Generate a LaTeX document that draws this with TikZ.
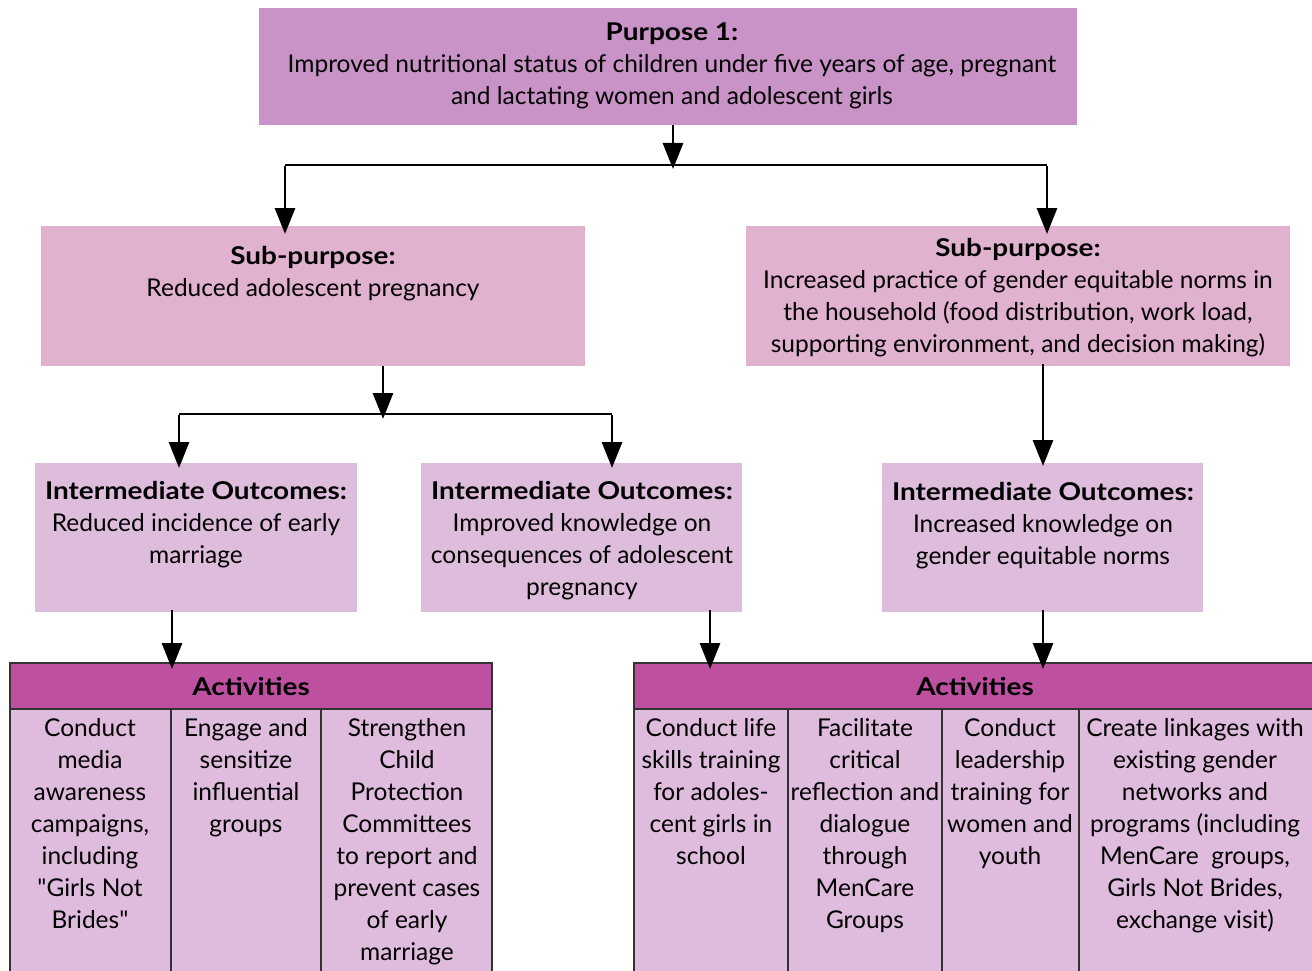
\documentclass[tikz,border=0pt]{standalone}
\usepackage{fontspec}
\setmainfont{Lato}[BoldFeatures={FakeStretch=1.14}, Ligatures=TeXOff]
\usetikzlibrary{arrows.meta}
\definecolor{purposeC}{HTML}{C993C7}
\definecolor{subC}{HTML}{E1B1D0}
\definecolor{ioC}{HTML}{DEBCDC}
\definecolor{headC}{HTML}{BD50A0}
\definecolor{bodyC}{HTML}{DFBCDD}
\definecolor{borderC}{HTML}{333333}
\begin{document}
\begin{tikzpicture}[x=1pt,y=-1pt,
  every node/.style={inner sep=0pt, outer sep=0pt},
  fbox/.style={anchor=north west},
  txt/.style={align=center, anchor=north, font=\fontsize{24.5}{32}\selectfont},
  cell/.style={anchor=north west, draw=borderC, line width=1.3pt, fill=bodyC},
  hcell/.style={anchor=north west, draw=borderC, line width=1.3pt, fill=headC},
  conn/.style={line width=2.9pt},
  arr/.style={line width=2.9pt, -{Triangle[width=20pt,length=26pt]}}
]
\useasboundingbox (0,0) rectangle (1312,971);
\fill[white] (0,0) rectangle (1312,971);

% Purpose
\node[fbox, fill=purposeC, minimum width=818pt, minimum height=117pt] (P) at (259,8) {};
\node[txt] (Pt) at (672,23) {\textbf{Purpose 1:}\\Improved nutritional status of children under five years of age, pregnant\\and lactating women and adolescent girls};

% Sub-purposes
\node[fbox, fill=subC, minimum width=544pt, minimum height=140pt] (S1) at (41,226) {};
\node[txt] (S1t) at (313,246) {\textbf{Sub-purpose:}\\Reduced adolescent pregnancy};
\node[fbox, fill=subC, minimum width=544pt, minimum height=140pt] (S2) at (746,226) {};
\node[txt] (S2t) at (1018,238) {\textbf{Sub-purpose:}\\Increased practice of gender equitable norms in\\the household (food distribution, work load,\\supporting environment, and decision making)};

% Intermediate outcomes
\node[fbox, fill=ioC, minimum width=322pt, minimum height=149pt] (I1) at (35,463) {};
\node[txt] (I1t) at (196,481) {\textbf{Intermediate Outcomes:}\\Reduced incidence of early\\marriage};
\node[fbox, fill=ioC, minimum width=321pt, minimum height=149pt] (I2) at (421,463) {};
\node[txt] (I2t) at (582,481) {\textbf{Intermediate Outcomes:}\\Improved knowledge on\\consequences of adolescent\\pregnancy};
\node[fbox, fill=ioC, minimum width=321pt, minimum height=149pt] (I3) at (882,463) {};
\node[txt] (I3t) at (1043,482) {\textbf{Intermediate Outcomes:}\\Increased knowledge on\\gender equitable norms};

% Activities left
\node[hcell, minimum width=482pt, minimum height=46pt] (A1) at (10,663) {};
\node[font=\fontsize{24.5}{32}\selectfont\bfseries] (A1t) at (A1.center) {Activities};
\node[cell, minimum width=161pt, minimum height=280pt] (A1a) at (10,709) {};
\node[cell, minimum width=150pt, minimum height=280pt] (A1b) at (171,709) {};
\node[cell, minimum width=171pt, minimum height=280pt] (A1c) at (321,709) {};
\node[txt] (A1at) at (90,718) {Conduct\\media\\awareness\\campaigns,\\including\\"Girls Not\\Brides"};
\node[txt] (A1bt) at (246,718) {Engage and\\sensitize\\influential\\groups};
\node[txt] (A1ct) at (407,718) {Strengthen\\Child\\Protection\\Committees\\to report and\\prevent cases\\of early\\marriage};

% Activities right
\node[hcell, minimum width=682pt, minimum height=46pt] (A2) at (634,663) {};
\node[font=\fontsize{24.5}{32}\selectfont\bfseries] (A2t) at (A2.center) {Activities};
\node[cell, minimum width=154pt, minimum height=280pt] (A2a) at (634,709) {};
\node[cell, minimum width=154pt, minimum height=280pt] (A2b) at (788,709) {};
\node[cell, minimum width=137pt, minimum height=280pt] (A2c) at (942,709) {};
\node[cell, minimum width=237pt, minimum height=280pt] (A2d) at (1079,709) {};
\node[txt] (A2at) at (711,718) {Conduct life\\skills training\\for adoles-\\cent girls in\\school};
\node[txt] (A2bt) at (865,718) {Facilitate\\critical\\reflection and\\dialogue\\through\\MenCare\\Groups};
\node[txt] (A2ct) at (1010,718) {Conduct\\leadership\\training for\\women and\\youth};
\node[txt] (A2dt) at (1195,718) {Create linkages with\\existing gender\\networks and\\programs (including\\MenCare~ groups,\\Girls Not Brides,\\exchange visit)};

% Connectors level 1
\coordinate (j1) at (673,165);
\coordinate (l1) at (285,165);
\coordinate (r1) at (1047,165);
\draw[arr] (P.south -| j1) -- ([yshift=-4pt]j1);
\draw[conn] (l1) -- (r1);
\draw[arr] ([yshift=-1.4pt]l1) -- ([yshift=-8pt]l1 |- S1.north);
\draw[arr] ([yshift=-1.4pt]r1) -- ([yshift=-8pt]r1 |- S2.north);

% Connectors level 2 (left)
\coordinate (j2) at (383,414);
\coordinate (l2) at (179,414);
\coordinate (r2) at (612,414);
\draw[arr] (S1.south -| j2) -- ([yshift=-5pt]j2);
\draw[conn] (l2) -- (r2);
\draw[arr] ([yshift=-1.4pt]l2) -- ([yshift=-5pt]l2 |- I1.north);
\draw[arr] ([yshift=-1.4pt]r2) -- ([yshift=-5pt]r2 |- I2.north);

% Connector level 2 (right)
\coordinate (j3) at (1043,368);
\draw[arr] ([yshift=2pt]S2.south -| j3) -- ([yshift=-3pt]j3 |- I3.north);

% Connectors to activities
\coordinate (k1) at (172,614);
\coordinate (k2) at (710,614);
\coordinate (k3) at (1043,614);
\draw[arr] ([yshift=2pt]I1.south -| k1) -- ([yshift=-6pt]k1 |- A1.north);
\draw[arr] ([yshift=2pt]I2.south -| k2) -- ([yshift=-6pt]k2 |- A2.north);
\draw[arr] ([yshift=2pt]I3.south -| k3) -- ([yshift=-6pt]k3 |- A2.north);
\end{tikzpicture}
\end{document}
